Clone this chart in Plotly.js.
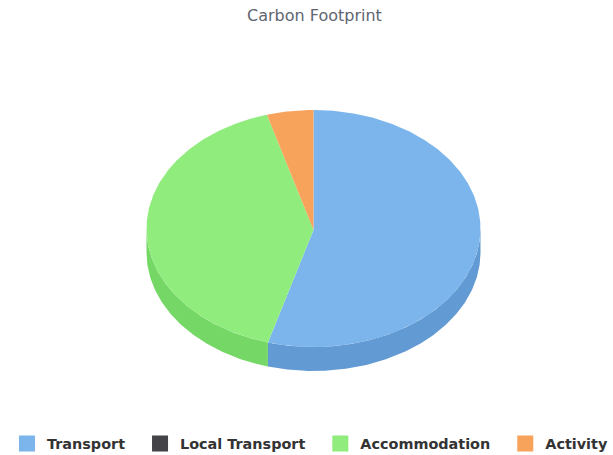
<!DOCTYPE html>
<html>
<head>
<meta charset="utf-8">
<script src="https://cdn.plot.ly/plotly-3.0.1.min.js"></script>
<style>html,body{margin:0;padding:0;background:#fff;overflow:hidden}</style>
</head>
<body>
<div id="chart" style="width:613px;height:455px"></div>
<script>
const categories = ["Transport", "Local Transport", "Accommodation", "Activity"];
const values = [54.4, 0, 41.1, 4.5];
const topColors = ["#7cb5ec", "#434348", "#90ed7d", "#f7a35c"];
const sideColors = ["#629ad3", "#434348", "#74d766", "#de8a43"];
const chartTitle = "Carbon Footprint";

const cx = 313.5, cy = 228.5, apexY = 230, rx = 167, ry = 118.5, depth = 24;

function arc(a0, a1, dy) {
  const n = Math.max(2, Math.ceil(Math.abs(a1 - a0) / 0.01));
  const xs = [], ys = [];
  for (let i = 0; i <= n; i++) {
    const a = a0 + (a1 - a0) * i / n;
    xs.push(cx + rx * Math.sin(a));
    ys.push(cy - ry * Math.cos(a) + dy);
  }
  return [xs, ys];
}
function poly(xs, ys, color) {
  return {type: "scatter", mode: "lines", x: xs, y: ys, fill: "toself", fillcolor: color,
    line: {width: 0, color: color}, hoverinfo: "skip", showlegend: false};
}
const total = values.reduce((a, b) => a + b, 0);
const sides = [], tops = [];
let start = 0;
values.forEach((v, i) => {
  const end = start + v / total * 2 * Math.PI;
  if (v > 0) {
    const a = arc(start, end, 0);
    tops.push(poly([cx].concat(a[0], [cx]), [apexY].concat(a[1], [apexY]), topColors[i]));
    const s0 = Math.max(start, Math.PI / 2), s1 = Math.min(end, 3 * Math.PI / 2);
    if (s1 > s0) {
      const up = arc(s0, s1, 0), down = arc(s1, s0, depth);
      sides.push(poly(up[0].concat(down[0], [up[0][0]]), up[1].concat(down[1], [up[1][0]]), sideColors[i]));
    }
  }
  start = end;
});
const legendItems = categories.map((c, i) => ({
  type: "scatter", mode: "markers",
  name: c + (i < categories.length - 1 ? "\u00a0\u00a0" : ""),
  x: [null], y: [null],
  marker: {symbol: "square", size: 18, color: topColors[i]}, hoverinfo: "skip"
}));

Plotly.newPlot("chart", sides.concat(tops, legendItems), {
  width: 613, height: 455,
  margin: {l: 0, r: 0, t: 0, b: 0, autoexpand: false},
  paper_bgcolor: "#fff", plot_bgcolor: "#fff",
  title: {text: chartTitle, x: 0.513, xanchor: "center", y: 0.966, yanchor: "middle",
    font: {family: "DejaVu Sans", size: 16, color: "#5f6570"}},
  xaxis: {range: [0, 613], visible: false, fixedrange: true},
  yaxis: {range: [455, 0], visible: false, fixedrange: true},
  legend: {orientation: "h", x: 0.0114, xanchor: "left", y: -0.01, yanchor: "bottom",
    font: {family: "DejaVu Sans", size: 14.4, color: "#333", weight: "bold"},
    itemsizing: "trace", itemwidth: 30, tracegroupgap: 0, bgcolor: "rgba(0,0,0,0)"},
  showlegend: true
}, {displayModeBar: false, staticPlot: true});
</script>
</body>
</html>
